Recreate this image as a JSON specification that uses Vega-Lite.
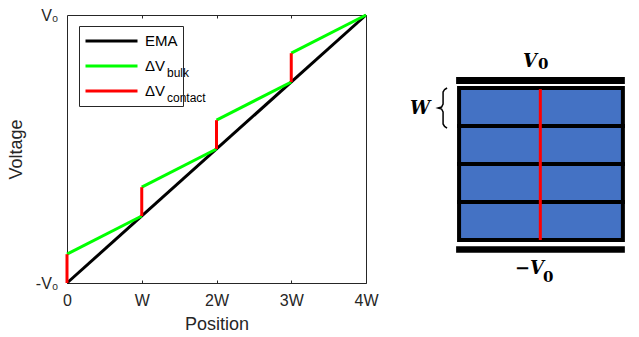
{
  "$schema": "https://vega.github.io/schema/vega-lite/v6.json",
  "padding": {"left": 6, "top": 6, "right": 0, "bottom": 0},
  "background": "white",
  "spacing": 26,
  "config": {"view": {"stroke": null}, "font": "Liberation Sans"},
  "hconcat": [
    {
      "width": 299,
      "height": 268,
      "view": {"stroke": "#262626", "strokeWidth": 1},
      "resolve": {"axis": {"x": "independent", "y": "independent"}},
      "layer": [
        {
          "data": {"values": [
            {"s": "EMA", "x": 0, "y": -1, "x2": 4, "y2": 1},
            {"s": "bulk", "x": 0, "y": -0.785, "x2": 1, "y2": -0.5},
            {"s": "bulk", "x": 1, "y": -0.285, "x2": 2, "y2": 0},
            {"s": "bulk", "x": 2, "y": 0.215, "x2": 3, "y2": 0.5},
            {"s": "bulk", "x": 3, "y": 0.715, "x2": 4, "y2": 1},
            {"s": "contact", "x": 0, "y": -1, "x2": 0, "y2": -0.785},
            {"s": "contact", "x": 1, "y": -0.5, "x2": 1, "y2": -0.285},
            {"s": "contact", "x": 2, "y": 0, "x2": 2, "y2": 0.215},
            {"s": "contact", "x": 3, "y": 0.5, "x2": 3, "y2": 0.715}
          ]},
          "mark": {"type": "rule", "strokeWidth": 3},
          "encoding": {
            "x": {"field": "x", "type": "quantitative", "scale": {"domain": [0, 4], "nice": false, "zero": false},
              "axis": {"values": [0, 1, 2, 3, 4], "labelExpr": "datum.value == 0 ? '0' : datum.value == 1 ? 'W' : datum.value + 'W'",
                "title": "Position", "grid": false, "domain": false, "tickSize": -3, "tickColor": "#262626", "labelPadding": 12,
                "labelFlush": false, "labelOverlap": false, "labelFontSize": 16, "labelColor": "#262626", "labelFont": "Liberation Sans",
                "titleFontSize": 18, "titleFontWeight": "normal", "titleColor": "#262626", "titleFont": "Liberation Sans", "titlePadding": 7}},
            "y": {"field": "y", "type": "quantitative", "scale": {"domain": [-1, 1], "nice": false, "zero": false},
              "axis": {"values": [-1, 1], "labelExpr": "datum.value == 1 ? 'V₀' : '-V₀'", "title": "Voltage", "grid": false, "domain": false,
                "tickSize": 0, "labelPadding": 9, "labelFontSize": 16, "labelColor": "#262626", "labelFont": "Liberation Sans",
                "titleFontSize": 18, "titleFontWeight": "normal", "titleColor": "#262626", "titleFont": "Liberation Sans", "titlePadding": 10}},
            "x2": {"field": "x2"},
            "y2": {"field": "y2"},
            "color": {"field": "s", "type": "nominal",
              "scale": {"domain": ["EMA", "bulk", "contact"], "range": ["#000000", "#00ff00", "#ff0000"]},
              "legend": {"orient": "none", "legendX": 12, "legendY": 11, "title": null, "symbolType": "stroke", "symbolSize": 2704,
                "symbolStrokeWidth": 3, "labelFontSize": 15, "labelFont": "Liberation Sans", "labelColor": "#000000", "labelOffset": 6,
                "padding": 5, "strokeColor": "#262626", "fillColor": null, "rowPadding": 5, "clipHeight": 20,
                "labelExpr": "datum.label == 'EMA' ? 'EMA' : datum.label == 'bulk' ? 'ΔV' : 'ΔV           '"}}
          }
        },
        {
          "data": {"values": [{}]},
          "mark": {"type": "text", "align": "left", "baseline": "alphabetic", "fontSize": 12, "font": "Liberation Sans", "color": "#000000"},
          "encoding": {
            "text": {"value": "bulk"},
            "x": {"datum": 1.338, "type": "quantitative", "scale": {"domain": [0, 4], "nice": false, "zero": false},
              "axis": {"orient": "top", "values": [1, 2, 3], "labels": false, "domain": false, "grid": false, "title": null, "tickSize": -3, "tickColor": "#262626"}},
            "y": {"datum": 0.537, "type": "quantitative", "scale": {"domain": [-1, 1], "nice": false, "zero": false}, "axis": null}
          }
        },
        {
          "data": {"values": [{}]},
          "mark": {"type": "text", "align": "left", "baseline": "alphabetic", "fontSize": 12, "font": "Liberation Sans", "color": "#000000"},
          "encoding": {
            "text": {"value": "contact"},
            "x": {"datum": 1.338, "type": "quantitative", "scale": {"domain": [0, 4], "nice": false, "zero": false}, "axis": null},
            "y": {"datum": 0.351, "type": "quantitative", "scale": {"domain": [-1, 1], "nice": false, "zero": false}, "axis": null}
          }
        }
      ]
    },
    {
      "width": 231,
      "height": 268,
      "layer": [
        {
          "data": {"values": [{"cell": 1, "lo": 0, "hi": 1}, {"cell": 2, "lo": 1, "hi": 2}, {"cell": 3, "lo": 2, "hi": 3}, {"cell": 4, "lo": 3, "hi": 4}]},
          "mark": {"type": "rect", "fill": "#4472C4", "stroke": "#000000", "strokeWidth": 4},
          "encoding": {
            "x": {"datum": 0, "type": "quantitative", "scale": {"domain": [-0.33, 1.08], "nice": false, "zero": false}, "axis": null},
            "x2": {"datum": 1},
            "y": {"field": "lo", "type": "quantitative", "scale": {"domain": [-1.131, 5.921], "nice": false, "zero": false}, "axis": null},
            "y2": {"field": "hi"}
          }
        },
        {
          "data": {"values": [{"electrode": "top", "a": 4.105, "b": 4.29}, {"electrode": "bottom", "a": -0.334, "b": -0.166}]},
          "mark": {"type": "rect", "fill": "#000000"},
          "encoding": {
            "x": {"datum": -0.018, "type": "quantitative", "scale": {"domain": [-0.33, 1.08], "nice": false, "zero": false}, "axis": null},
            "x2": {"datum": 1.012},
            "y": {"field": "a", "type": "quantitative", "scale": {"domain": [-1.131, 5.921], "nice": false, "zero": false}, "axis": null},
            "y2": {"field": "b"}
          }
        },
        {
          "data": {"values": [{}]},
          "mark": {"type": "rule", "color": "#ff0000", "strokeWidth": 3},
          "encoding": {
            "x": {"datum": 0.496, "type": "quantitative", "scale": {"domain": [-0.33, 1.08], "nice": false, "zero": false}, "axis": null},
            "y": {"datum": 0, "type": "quantitative", "scale": {"domain": [-1.131, 5.921], "nice": false, "zero": false}, "axis": null},
            "y2": {"datum": 3.97}
          }
        },
        {
          "data": {"values": [
            {"i": 0, "bx": -0.0732, "by": 4.0},
            {"i": 1, "bx": -0.0884, "by": 3.961},
            {"i": 2, "bx": -0.0976, "by": 3.895},
            {"i": 3, "bx": -0.0976, "by": 3.579},
            {"i": 4, "bx": -0.1067, "by": 3.5},
            {"i": 5, "bx": -0.128, "by": 3.474},
            {"i": 6, "bx": -0.1067, "by": 3.447},
            {"i": 7, "bx": -0.0976, "by": 3.368},
            {"i": 8, "bx": -0.0976, "by": 3.053},
            {"i": 9, "bx": -0.0884, "by": 2.987},
            {"i": 10, "bx": -0.0732, "by": 2.947}
          ]},
          "mark": {"type": "line", "color": "#000000", "strokeWidth": 1.5},
          "encoding": {
            "x": {"field": "bx", "type": "quantitative", "scale": {"domain": [-0.33, 1.08], "nice": false, "zero": false}, "axis": null},
            "y": {"field": "by", "type": "quantitative", "scale": {"domain": [-1.131, 5.921], "nice": false, "zero": false}, "axis": null},
            "order": {"field": "i"}
          }
        },
        {
          "data": {"values": [
            {"t": "V", "px": 0.39, "py": 4.553},
            {"t": "−V", "px": 0.341, "py": -0.895},
            {"t": "W", "px": -0.299, "py": 3.316}
          ]},
          "mark": {"type": "text", "align": "left", "baseline": "alphabetic", "font": "DejaVu Serif", "fontWeight": "bold", "fontStyle": "italic", "fontSize": 18, "color": "#000000"},
          "encoding": {
            "text": {"field": "t"},
            "x": {"field": "px", "type": "quantitative", "scale": {"domain": [-0.33, 1.08], "nice": false, "zero": false}, "axis": null},
            "y": {"field": "py", "type": "quantitative", "scale": {"domain": [-1.131, 5.921], "nice": false, "zero": false}, "axis": null}
          }
        },
        {
          "data": {"values": [
            {"t": "0", "px": 0.482, "py": 4.5},
            {"t": "0", "px": 0.512, "py": -1.105}
          ]},
          "mark": {"type": "text", "align": "left", "baseline": "alphabetic", "font": "DejaVu Serif", "fontWeight": "bold", "fontSize": 15, "color": "#000000"},
          "encoding": {
            "text": {"field": "t"},
            "x": {"field": "px", "type": "quantitative", "scale": {"domain": [-0.33, 1.08], "nice": false, "zero": false}, "axis": null},
            "y": {"field": "py", "type": "quantitative", "scale": {"domain": [-1.131, 5.921], "nice": false, "zero": false}, "axis": null}
          }
        }
      ]
    }
  ]
}
